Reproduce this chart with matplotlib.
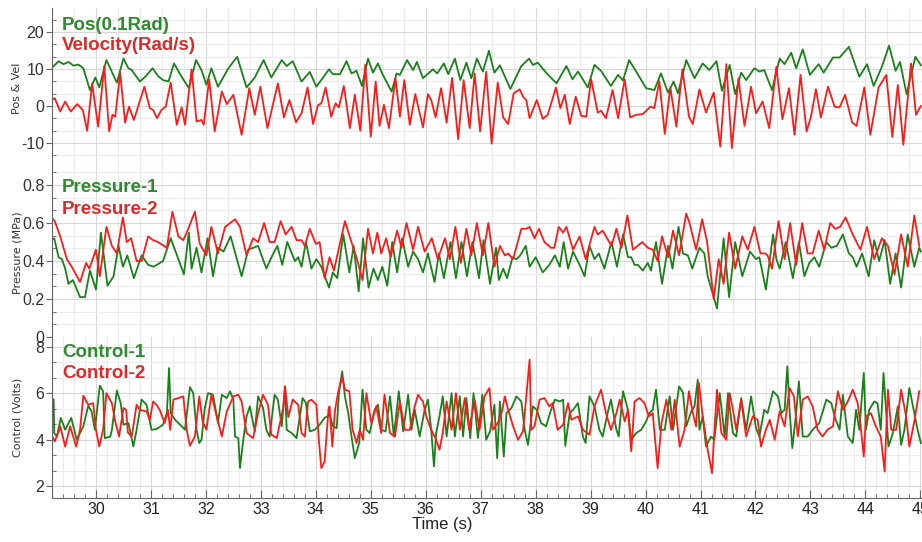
import matplotlib
matplotlib.use("Agg")
import matplotlib.pyplot as plt
import numpy as np
from matplotlib.ticker import AutoMinorLocator

# (time s, value)
pos = [(29.19, 10.2), (29.32, 12.1), (29.41, 11.3), (29.50, 11.9), (29.59, 10.9), (29.68, 11.2), (29.77, 10.2),
       (29.89, 4.3), (29.99, 7.7), (30.06, 5.0), (30.19, 12.4), (30.38, 6.3), (30.50, 12.8), (30.59, 10.2),
       (30.65, 9.7), (30.80, 6.6), (30.91, 8.1), (31.03, 10.2), (31.13, 8.1), (31.22, 7.0), (31.32, 6.6),
       (31.42, 11.5), (31.53, 8.6), (31.69, 4.8), (31.82, 12.4), (31.92, 9.7), (32.01, 5.7), (32.10, 10.2),
       (32.22, 5.2), (32.41, 10.2), (32.57, 13.3), (32.74, 5.0), (32.89, 7.7), (33.05, 12.4), (33.19, 7.7),
       (33.38, 12.4), (33.47, 10.8), (33.58, 12.1), (33.74, 6.6), (33.89, 9.2), (34.01, 5.2), (34.24, 9.9),
       (34.31, 8.6), (34.44, 8.6), (34.56, 12.1), (34.65, 8.8), (34.74, 9.5), (34.84, 5.4), (34.95, 12.8),
       (35.04, 9.0), (35.13, 11.5), (35.22, 8.4), (35.38, 3.9), (35.47, 8.8), (35.53, 8.4), (35.66, 12.4),
       (35.77, 9.7), (35.84, 11.9), (35.95, 7.5), (36.13, 9.9), (36.21, 8.8), (36.33, 11.5), (36.41, 8.6),
       (36.53, 12.8), (36.63, 7.0), (36.74, 11.7), (36.83, 7.5), (36.93, 12.8), (37.04, 9.3), (37.15, 14.9),
       (37.25, 9.0), (37.35, 11.0), (37.54, 4.6), (37.74, 10.8), (37.88, 12.8), (37.95, 11.1), (38.04, 11.7),
       (38.19, 9.0), (38.38, 6.1), (38.56, 10.8), (38.67, 7.2), (38.77, 9.3), (38.95, 5.0), (39.07, 11.1),
       (39.19, 9.5), (39.37, 5.4), (39.50, 8.4), (39.59, 6.9), (39.70, 12.4), (39.83, 9.3), (40.01, 4.8),
       (40.16, 4.3), (40.28, 8.8), (40.41, 3.6), (40.51, 6.6), (40.59, 3.4), (40.74, 12.4), (40.89, 7.5),
       (41.04, 11.5), (41.16, 9.7), (41.29, 12.1), (41.39, 4.1), (41.53, 11.1), (41.63, 3.2), (41.74, 9.0),
       (41.83, 7.0), (41.98, 10.2), (42.07, 9.3), (42.16, 9.7), (42.30, 4.3), (42.44, 12.8), (42.53, 11.3),
       (42.65, 14.4), (42.74, 10.2), (42.86, 15.3), (42.99, 8.4), (43.15, 11.3), (43.24, 9.0), (43.41, 13.1),
       (43.53, 13.1), (43.70, 16.0), (43.89, 7.9), (44.03, 11.3), (44.15, 5.4), (44.30, 10.6), (44.43, 16.3),
       (44.55, 9.5), (44.63, 11.9), (44.75, 3.2), (44.91, 13.3), (45.01, 11.0)]

vel = [(29.19, 1.6), (29.25, 2.1), (29.35, -1.5), (29.44, 1.2), (29.54, -1.5), (29.66, 0.5), (29.76, -1.1),
       (29.84, -6.7), (29.93, 6.1), (30.04, -5.6), (30.15, 10.8), (30.24, -6.9), (30.30, -2.4), (30.35, -2.9),
       (30.44, 9.0), (30.53, -4.5), (30.60, -0.2), (30.69, -3.8), (30.88, 5.2), (30.98, -0.6), (31.04, -1.1),
       (31.11, -3.3), (31.19, -1.1), (31.27, -0.2), (31.36, 6.3), (31.47, -5.1), (31.56, -0.4), (31.62, -5.1),
       (31.74, 9.9), (31.83, -4.2), (31.92, -3.8), (31.96, -5.1), (32.06, 7.2), (32.16, -6.9), (32.29, 3.9),
       (32.38, 0.5), (32.50, 3.0), (32.65, -7.8), (32.79, 4.8), (32.89, -2.4), (32.99, 5.2), (33.12, -6.0),
       (33.31, 6.1), (33.42, -3.1), (33.52, 1.6), (33.64, -4.4), (33.74, -2.0), (33.85, 5.0), (33.95, -4.9),
       (34.04, 0.2), (34.10, 0.7), (34.18, 5.0), (34.28, -2.9), (34.36, 0.7), (34.42, -0.4), (34.51, 5.4),
       (34.62, -6.0), (34.71, 3.0), (34.81, -6.7), (34.90, 11.2), (35.00, -8.3), (35.09, 6.6), (35.16, -5.4),
       (35.24, 0.3), (35.33, -6.0), (35.45, 7.5), (35.53, -2.9), (35.61, 7.0), (35.71, -5.1), (35.81, 3.2),
       (35.95, -5.8), (36.04, 3.2), (36.10, 1.6), (36.18, -3.1), (36.28, 4.8), (36.38, -4.5), (36.48, 7.6),
       (36.59, -9.0), (36.69, 7.0), (36.80, -6.0), (36.89, 8.8), (36.99, -6.9), (37.10, 9.3), (37.20, -10.2),
       (37.31, 6.3), (37.41, -3.1), (37.50, -4.9), (37.60, 3.4), (37.71, 4.5), (37.77, 2.5), (37.83, 1.6),
       (37.89, -3.3), (38.02, 1.6), (38.13, -3.5), (38.22, -2.4), (38.37, 5.0), (38.45, -0.6), (38.53, 3.0),
       (38.62, -4.9), (38.73, 2.5), (38.83, -2.7), (38.92, -2.9), (39.01, 7.2), (39.13, -1.8), (39.19, -1.3),
       (39.28, -3.3), (39.40, 4.3), (39.50, -3.3), (39.62, 7.2), (39.72, -3.1), (39.83, -2.4), (39.95, -2.2),
       (40.09, -0.2), (40.16, -0.6), (40.25, 6.7), (40.35, -7.6), (40.45, 5.0), (40.56, -5.6), (40.67, 9.9),
       (40.79, -2.9), (40.86, -4.9), (40.98, 4.5), (41.10, -1.8), (41.24, 3.6), (41.36, -11.0), (41.47, 11.3),
       (41.57, -11.4), (41.69, 7.5), (41.80, -5.4), (41.92, 5.2), (42.01, -2.0), (42.13, 1.2), (42.25, -6.0),
       (42.38, 10.6), (42.49, -3.6), (42.61, 4.8), (42.71, -7.8), (42.82, 8.4), (42.93, -6.9), (43.01, -2.9),
       (43.10, 4.5), (43.19, -3.1), (43.32, 5.2), (43.44, -0.2), (43.53, -0.4), (43.63, 3.0), (43.76, -4.5),
       (43.84, -5.4), (43.98, 5.0), (44.09, -7.8), (44.24, 5.0), (44.38, 8.4), (44.49, -8.4), (44.59, 5.7),
       (44.69, -10.5), (44.83, 11.5), (44.92, -2.4), (45.01, 0.0)]

press1 = [(29.19, 0.51), (29.24, 0.52), (29.32, 0.42), (29.38, 0.41), (29.44, 0.36), (29.50, 0.28), (29.58, 0.30),
          (29.71, 0.21), (29.80, 0.21), (29.89, 0.35), (30.00, 0.25), (30.09, 0.55), (30.21, 0.27), (30.32, 0.32),
          (30.41, 0.48), (30.49, 0.37), (30.57, 0.43), (30.69, 0.31), (30.83, 0.43), (30.95, 0.38), (31.05, 0.37),
          (31.22, 0.40), (31.36, 0.52), (31.60, 0.33), (31.69, 0.55), (31.74, 0.36), (31.83, 0.47), (31.92, 0.34),
          (32.03, 0.52), (32.13, 0.32), (32.22, 0.47), (32.32, 0.45), (32.45, 0.53), (32.65, 0.32), (32.77, 0.46),
          (32.95, 0.48), (33.10, 0.36), (33.21, 0.43), (33.30, 0.48), (33.39, 0.38), (33.48, 0.50), (33.62, 0.40),
          (33.68, 0.42), (33.74, 0.37), (33.82, 0.50), (33.92, 0.36), (34.01, 0.41), (34.10, 0.37), (34.24, 0.26),
          (34.31, 0.34), (34.39, 0.31), (34.50, 0.54), (34.61, 0.34), (34.69, 0.48), (34.78, 0.24), (34.86, 0.52),
          (34.96, 0.26), (35.05, 0.36), (35.13, 0.30), (35.21, 0.37), (35.30, 0.27), (35.39, 0.50), (35.48, 0.34),
          (35.57, 0.52), (35.68, 0.37), (35.77, 0.45), (35.86, 0.41), (35.95, 0.34), (36.04, 0.44), (36.16, 0.29),
          (36.24, 0.44), (36.33, 0.31), (36.45, 0.50), (36.55, 0.31), (36.65, 0.50), (36.75, 0.32), (36.85, 0.50),
          (36.97, 0.31), (37.05, 0.51), (37.17, 0.28), (37.28, 0.47), (37.33, 0.30), (37.41, 0.36), (37.48, 0.31),
          (37.58, 0.42), (37.65, 0.41), (37.72, 0.43), (37.82, 0.48), (37.89, 0.37), (38.00, 0.42), (38.13, 0.34),
          (38.25, 0.38), (38.35, 0.43), (38.44, 0.37), (38.51, 0.50), (38.59, 0.36), (38.68, 0.45), (38.80, 0.38),
          (38.89, 0.32), (38.98, 0.48), (39.07, 0.41), (39.15, 0.44), (39.25, 0.36), (39.38, 0.50), (39.48, 0.37),
          (39.59, 0.54), (39.68, 0.42), (39.74, 0.42), (39.80, 0.38), (39.86, 0.38), (39.95, 0.35), (40.04, 0.39),
          (40.10, 0.35), (40.19, 0.50), (40.30, 0.28), (40.41, 0.48), (40.49, 0.36), (40.60, 0.58), (40.68, 0.44),
          (40.77, 0.43), (40.85, 0.36), (40.98, 0.47), (41.07, 0.44), (41.13, 0.32), (41.30, 0.15), (41.42, 0.52),
          (41.52, 0.21), (41.63, 0.50), (41.76, 0.32), (41.90, 0.45), (42.01, 0.41), (42.07, 0.42), (42.19, 0.25),
          (42.32, 0.54), (42.38, 0.41), (42.44, 0.36), (42.55, 0.50), (42.68, 0.31), (42.79, 0.50), (42.89, 0.32),
          (42.98, 0.39), (43.07, 0.42), (43.16, 0.37), (43.29, 0.50), (43.38, 0.47), (43.48, 0.48), (43.59, 0.54),
          (43.70, 0.44), (43.77, 0.42), (43.84, 0.37), (43.94, 0.44), (44.06, 0.32), (44.16, 0.51), (44.25, 0.40),
          (44.35, 0.51), (44.45, 0.28), (44.55, 0.44), (44.65, 0.26), (44.77, 0.54), (44.89, 0.37), (44.98, 0.47),
          (45.01, 0.45)]

press2 = [(29.19, 0.63), (29.25, 0.61), (29.35, 0.53), (29.47, 0.41), (29.56, 0.37), (29.71, 0.29), (29.82, 0.39),
          (29.88, 0.36), (30.00, 0.46), (30.07, 0.32), (30.19, 0.58), (30.29, 0.48), (30.38, 0.44), (30.49, 0.63),
          (30.56, 0.50), (30.64, 0.52), (30.74, 0.40), (30.83, 0.40), (30.95, 0.53), (31.04, 0.51), (31.13, 0.50),
          (31.29, 0.47), (31.39, 0.66), (31.50, 0.53), (31.59, 0.51), (31.68, 0.57), (31.80, 0.66), (31.89, 0.49),
          (32.01, 0.43), (32.10, 0.58), (32.22, 0.44), (32.35, 0.58), (32.44, 0.60), (32.53, 0.62), (32.62, 0.58),
          (32.74, 0.43), (32.86, 0.52), (32.95, 0.50), (33.06, 0.60), (33.16, 0.50), (33.25, 0.50), (33.36, 0.61),
          (33.45, 0.54), (33.56, 0.58), (33.65, 0.51), (33.74, 0.51), (33.80, 0.48), (33.89, 0.57), (34.00, 0.49),
          (34.07, 0.50), (34.16, 0.31), (34.25, 0.42), (34.33, 0.35), (34.53, 0.61), (34.67, 0.48), (34.74, 0.42),
          (34.85, 0.30), (34.95, 0.57), (35.04, 0.44), (35.12, 0.55), (35.19, 0.44), (35.28, 0.52), (35.36, 0.42),
          (35.48, 0.56), (35.56, 0.47), (35.65, 0.60), (35.77, 0.46), (35.86, 0.58), (35.98, 0.45), (36.11, 0.52),
          (36.22, 0.41), (36.35, 0.52), (36.44, 0.41), (36.54, 0.58), (36.64, 0.39), (36.74, 0.57), (36.83, 0.43),
          (36.93, 0.60), (37.04, 0.43), (37.14, 0.60), (37.25, 0.37), (37.35, 0.48), (37.44, 0.43), (37.50, 0.44),
          (37.59, 0.41), (37.74, 0.57), (37.83, 0.57), (37.89, 0.58), (37.98, 0.52), (38.06, 0.57), (38.16, 0.50),
          (38.28, 0.47), (38.34, 0.47), (38.42, 0.58), (38.50, 0.55), (38.56, 0.58), (38.68, 0.46), (38.80, 0.53),
          (38.91, 0.41), (39.07, 0.58), (39.13, 0.54), (39.22, 0.56), (39.38, 0.48), (39.47, 0.57), (39.56, 0.47),
          (39.67, 0.64), (39.77, 0.46), (39.94, 0.50), (40.04, 0.47), (40.13, 0.46), (40.22, 0.40), (40.30, 0.53),
          (40.41, 0.42), (40.50, 0.56), (40.61, 0.43), (40.74, 0.65), (40.80, 0.60), (40.92, 0.46), (41.03, 0.62),
          (41.12, 0.50), (41.24, 0.20), (41.33, 0.41), (41.42, 0.28), (41.52, 0.55), (41.63, 0.36), (41.76, 0.53),
          (41.86, 0.46), (41.98, 0.58), (42.09, 0.44), (42.18, 0.44), (42.22, 0.43), (42.30, 0.36), (42.42, 0.61),
          (42.53, 0.41), (42.63, 0.60), (42.74, 0.38), (42.85, 0.60), (42.95, 0.44), (43.04, 0.44), (43.15, 0.56),
          (43.25, 0.46), (43.36, 0.60), (43.45, 0.57), (43.54, 0.58), (43.64, 0.63), (43.77, 0.54), (43.91, 0.46),
          (44.03, 0.58), (44.16, 0.41), (44.30, 0.52), (44.41, 0.48), (44.53, 0.33), (44.65, 0.54), (44.77, 0.37),
          (44.89, 0.64), (44.98, 0.48)]

ctrl1 = [(29.19, 5.80), (29.23, 5.73), (29.24, 4.29), (29.29, 4.14), (29.36, 4.94), (29.44, 4.43), (29.55, 4.94),
         (29.65, 4.00), (29.77, 4.58), (29.86, 5.47), (29.92, 5.22), (29.98, 4.43), (30.07, 6.33), (30.13, 6.09),
         (30.16, 4.07), (30.26, 4.14), (30.29, 4.43), (30.38, 6.12), (30.45, 5.58), (30.50, 4.65), (30.59, 4.72),
         (30.68, 3.71), (30.74, 4.43), (30.83, 5.73), (30.92, 5.51), (31.01, 4.43), (31.10, 4.46), (31.22, 4.65),
         (31.29, 5.15), (31.33, 7.09), (31.36, 5.15), (31.44, 4.86), (31.56, 4.58), (31.62, 4.43), (31.71, 6.27),
         (31.77, 6.01), (31.83, 4.43), (31.88, 3.86), (31.92, 4.00), (31.98, 5.37), (32.04, 6.01), (32.13, 5.94),
         (32.22, 4.72), (32.29, 5.94), (32.38, 5.80), (32.44, 6.09), (32.50, 5.73), (32.53, 4.14), (32.59, 4.07),
         (32.62, 2.78), (32.68, 4.00), (32.74, 5.01), (32.80, 5.44), (32.89, 4.36), (32.95, 5.87), (33.04, 5.37),
         (33.10, 4.43), (33.16, 4.14), (33.25, 5.94), (33.31, 5.73), (33.38, 4.58), (33.44, 6.30), (33.47, 4.43),
         (33.56, 4.29), (33.65, 4.07), (33.76, 5.80), (33.82, 5.58), (33.89, 4.36), (33.98, 4.43), (34.07, 4.65),
         (34.16, 4.94), (34.25, 5.08), (34.31, 4.58), (34.38, 4.50), (34.42, 6.01), (34.48, 6.95), (34.53, 5.87),
         (34.59, 5.15), (34.65, 4.14), (34.71, 3.21), (34.79, 3.86), (34.85, 6.16), (34.92, 4.43), (34.98, 4.29),
         (35.07, 5.29), (35.13, 5.51), (35.19, 4.43), (35.27, 4.36), (35.35, 5.87), (35.42, 4.14), (35.51, 6.09),
         (35.59, 4.36), (35.68, 5.94), (35.74, 4.43), (35.80, 5.29), (35.89, 4.14), (35.98, 5.29), (36.04, 5.73),
         (36.10, 4.43), (36.15, 2.85), (36.19, 4.29), (36.25, 5.01), (36.31, 5.87), (36.38, 4.14), (36.47, 6.01),
         (36.53, 4.14), (36.62, 5.87), (36.68, 4.14), (36.74, 5.80), (36.81, 4.07), (36.87, 6.01), (36.95, 4.07),
         (37.03, 5.94), (37.10, 4.00), (37.17, 4.36), (37.25, 5.51), (37.30, 3.21), (37.35, 5.65), (37.42, 3.28),
         (37.47, 5.15), (37.56, 5.37), (37.65, 5.87), (37.74, 5.65), (37.80, 4.43), (37.86, 3.78), (37.95, 5.44),
         (38.02, 5.29), (38.10, 4.72), (38.19, 4.58), (38.27, 5.22), (38.35, 5.73), (38.44, 5.65), (38.50, 5.73),
         (38.54, 3.74), (38.62, 5.15), (38.68, 5.29), (38.77, 5.58), (38.86, 4.14), (38.91, 3.86), (38.98, 5.87),
         (39.07, 5.44), (39.16, 4.43), (39.22, 4.14), (39.31, 5.15), (39.37, 5.73), (39.47, 4.43), (39.51, 4.14),
         (39.59, 6.09), (39.68, 5.29), (39.74, 4.00), (39.83, 4.29), (39.92, 4.43), (40.01, 4.79), (40.07, 5.15),
         (40.13, 5.29), (40.19, 6.16), (40.26, 4.43), (40.35, 4.43), (40.41, 5.44), (40.44, 5.87), (40.50, 4.43),
         (40.61, 6.30), (40.68, 6.04), (40.74, 4.58), (40.83, 5.22), (40.89, 5.44), (40.95, 6.59), (40.98, 4.43),
         (41.04, 5.01), (41.10, 3.71), (41.19, 4.14), (41.25, 4.00), (41.35, 6.01), (41.44, 4.14), (41.50, 6.01),
         (41.59, 4.29), (41.65, 4.14), (41.74, 5.80), (41.83, 4.43), (41.92, 5.87), (42.01, 4.50), (42.07, 4.14),
         (42.16, 5.29), (42.22, 5.15), (42.32, 6.09), (42.41, 5.87), (42.47, 5.15), (42.53, 5.29), (42.58, 7.17),
         (42.62, 5.29), (42.67, 3.64), (42.74, 5.15), (42.79, 6.52), (42.86, 4.14), (42.95, 4.14), (43.04, 4.43),
         (43.16, 4.72), (43.29, 5.73), (43.38, 5.58), (43.44, 5.01), (43.53, 4.43), (43.59, 5.94), (43.68, 4.14),
         (43.77, 3.86), (43.83, 5.29), (43.89, 4.43), (43.97, 6.88), (44.01, 4.43), (44.07, 5.29), (44.16, 5.65),
         (44.22, 5.58), (44.28, 4.43), (44.33, 6.88), (44.38, 5.15), (44.42, 3.71), (44.50, 4.29), (44.59, 5.44),
         (44.65, 3.78), (44.71, 4.43), (44.80, 6.23), (44.89, 5.15), (44.95, 4.43), (45.01, 3.86)]

ctrl2 = [(29.19, 4.22), (29.25, 3.93), (29.32, 4.36), (29.35, 4.58), (29.44, 3.71), (29.53, 4.58), (29.64, 3.71),
         (29.71, 4.43), (29.77, 5.90), (29.86, 5.51), (29.95, 5.58), (30.00, 4.43), (30.06, 3.71), (30.13, 4.43),
         (30.19, 6.01), (30.29, 5.58), (30.35, 4.79), (30.42, 4.14), (30.50, 5.37), (30.55, 5.29), (30.58, 4.32),
         (30.65, 4.14), (30.74, 5.51), (30.80, 5.29), (30.92, 5.22), (30.98, 4.86), (31.04, 5.65), (31.10, 5.51),
         (31.16, 5.29), (31.25, 4.72), (31.31, 5.29), (31.35, 4.43), (31.41, 5.73), (31.50, 5.80), (31.59, 5.87),
         (31.65, 4.43), (31.71, 3.74), (31.80, 4.14), (31.88, 5.87), (31.94, 4.79), (32.01, 4.43), (32.10, 5.94),
         (32.19, 5.08), (32.29, 4.14), (32.38, 5.22), (32.50, 5.87), (32.59, 5.94), (32.65, 5.65), (32.74, 4.29),
         (32.86, 4.07), (32.95, 5.15), (33.04, 5.94), (33.13, 5.51), (33.19, 4.22), (33.29, 4.07), (33.41, 5.41),
         (33.44, 6.30), (33.50, 4.98), (33.58, 5.73), (33.68, 5.51), (33.74, 4.29), (33.80, 4.14), (33.86, 5.65),
         (33.92, 5.73), (34.01, 5.51), (34.06, 3.86), (34.10, 2.78), (34.16, 3.06), (34.23, 5.29), (34.25, 5.44),
         (34.30, 3.71), (34.35, 5.29), (34.41, 6.09), (34.48, 6.73), (34.53, 6.16), (34.61, 6.09), (34.67, 4.43),
         (34.74, 3.86), (34.80, 4.43), (34.86, 4.00), (34.92, 6.01), (35.01, 4.72), (35.10, 5.44), (35.19, 4.29),
         (35.25, 5.94), (35.35, 4.29), (35.44, 4.14), (35.53, 5.65), (35.62, 4.43), (35.71, 4.43), (35.80, 5.44),
         (35.86, 5.94), (35.95, 5.65), (36.01, 5.01), (36.10, 4.43), (36.19, 4.00), (36.25, 3.57), (36.31, 4.29),
         (36.38, 5.65), (36.47, 4.43), (36.55, 6.01), (36.62, 4.43), (36.71, 5.80), (36.79, 4.43), (36.89, 5.73),
         (36.98, 4.43), (37.07, 5.87), (37.16, 6.23), (37.22, 4.43), (37.31, 4.72), (37.38, 5.15), (37.44, 5.87),
         (37.50, 5.29), (37.59, 4.58), (37.68, 4.00), (37.77, 4.36), (37.83, 5.87), (37.89, 7.45), (37.92, 4.43),
         (37.98, 4.58), (38.07, 5.73), (38.16, 5.80), (38.25, 5.44), (38.31, 5.58), (38.40, 4.43), (38.50, 4.65),
         (38.59, 5.58), (38.65, 4.86), (38.77, 5.01), (38.86, 4.43), (38.98, 4.22), (39.07, 5.44), (39.19, 6.16),
         (39.28, 5.15), (39.37, 4.43), (39.47, 5.15), (39.53, 5.73), (39.62, 4.79), (39.68, 5.29), (39.74, 3.50),
         (39.80, 5.65), (39.89, 5.80), (39.98, 5.58), (40.06, 5.01), (40.13, 5.15), (40.22, 2.78), (40.29, 4.72),
         (40.38, 5.73), (40.47, 4.43), (40.53, 5.73), (40.62, 3.71), (40.71, 4.43), (40.79, 6.09), (40.86, 5.15),
         (40.92, 4.58), (40.97, 6.45), (41.04, 5.01), (41.13, 3.57), (41.21, 2.56), (41.25, 4.29), (41.30, 6.16),
         (41.38, 4.29), (41.47, 4.00), (41.53, 6.01), (41.59, 5.29), (41.65, 4.43), (41.74, 5.73), (41.83, 4.14),
         (41.95, 5.01), (42.04, 4.86), (42.10, 3.71), (42.19, 4.43), (42.26, 4.86), (42.35, 4.00), (42.44, 5.22),
         (42.53, 4.58), (42.62, 6.23), (42.70, 5.87), (42.77, 4.14), (42.86, 5.73), (42.95, 5.87), (43.04, 5.44),
         (43.13, 4.43), (43.22, 4.14), (43.31, 4.43), (43.41, 4.58), (43.50, 6.09), (43.59, 5.29), (43.68, 5.65),
         (43.77, 6.16), (43.86, 5.58), (43.92, 4.43), (43.97, 3.28), (44.01, 5.01), (44.10, 5.15), (44.19, 4.58),
         (44.28, 4.14), (44.35, 2.63), (44.41, 6.16), (44.47, 4.43), (44.56, 4.43), (44.65, 6.16), (44.74, 5.01),
         (44.80, 3.71), (44.89, 4.79), (44.98, 6.09)]

green = '#1a801a'
red = '#ff1a1a'
text_green = '#2e8b2e'
text_red = '#dd2a2a'
ink = '#333333'
axis_col = '#666666'

fig = plt.figure(figsize=(9.22, 5.42), dpi=100)
W, H = 922.0, 542.0
left, width = 52 / W, 870 / W
ax1 = fig.add_axes([left, 1 - 168 / H, width, 160 / H])
ax2 = fig.add_axes([left, 1 - 337 / H, width, 169 / H])
ax3 = fig.add_axes([left, 1 - 498 / H, width, 161 / H])

# axis, series 1, series 2, labels, y label, y limits, y ticks, label baselines
panels = [
    (ax1, pos, vel, 'Pos(0.1Rad)', 'Velocity(Rad/s)', 'Pos & Vel', (-16.8, 26.5),
     [-10, 0, 10, 20], ['-10', '0', '10', '20'], (0.862, 0.738)),
    (ax2, press1, press2, 'Pressure-1', 'Pressure-2', 'Pressure (MPa)', (0, 0.89),
     [0, 0.2, 0.4, 0.6, 0.8], ['0', '0.2', '0.4', '0.6', '0.8'], (0.86, 0.728)),
    (ax3, ctrl1, ctrl2, 'Control-1', 'Control-2', 'Control (Volts)', (1.49, 8.43),
     [2, 4, 6, 8], ['2', '4', '6', '8'], (0.876, 0.745)),
]

for ax, s1, s2, lab1, lab2, ylab, ylim, yt, ytl, ys in panels:
    a = np.array(s1)
    b = np.array(s2)
    ax.plot(a[:, 0], a[:, 1], color=green, lw=1.3, solid_joinstyle='round')
    ax.plot(b[:, 0], b[:, 1], color=red, lw=1.3, solid_joinstyle='round')
    ax.set_xlim(29.2, 45.03)
    ax.set_ylim(*ylim)
    ax.set_yticks(yt)
    ax.set_yticklabels(ytl, family='Liberation Sans')
    ax.xaxis.set_minor_locator(AutoMinorLocator(5))
    ax.yaxis.set_minor_locator(AutoMinorLocator(3))
    ax.grid(which='minor', color='#ececec', lw=0.8)
    ax.grid(which='major', color='#d8d8d8', lw=0.8)
    ax.set_axisbelow(True)
    for sp in ['top', 'right']:
        ax.spines[sp].set_visible(False)
    ax.spines['left'].set_color(axis_col)
    ax.tick_params(axis='y', which='major', direction='out', length=4, color=axis_col,
                   labelsize=11.5, labelcolor=ink, pad=1.5)
    ax.tick_params(axis='y', which='minor', direction='in', length=3, color=axis_col)
    ax.set_ylabel(ylab, fontsize=8, color=ink)
    ax.yaxis.set_label_coords(-0.034, 0.5)
    ax.text(0.0115, ys[0], lab1, transform=ax.transAxes, color=text_green, fontsize=13.5,
            family='Liberation Sans', weight='bold', va='baseline', ha='left')
    ax.text(0.0115, ys[1], lab2, transform=ax.transAxes, color=text_red, fontsize=13.5,
            family='Liberation Sans', weight='bold', va='baseline', ha='left')

for ax in (ax1, ax2):
    ax.spines['bottom'].set_visible(False)
    ax.tick_params(axis='x', which='both', bottom=False, labelbottom=False)

ax3.spines['bottom'].set_color(axis_col)
ax3.set_xticks(range(30, 46))
ax3.set_xticklabels([str(v) for v in range(30, 46)], family='Liberation Sans')
ax3.tick_params(axis='x', which='major', direction='in', length=6, color=axis_col,
                labelsize=11.5, labelcolor='#222222', pad=3)
ax3.tick_params(axis='x', which='minor', direction='in', length=3, color=axis_col)
ax3.set_xlabel('Time (s)', fontsize=12, color='#222222', family='Liberation Sans')
ax3.xaxis.set_label_coords(0.448, -0.12)

fig.savefig('out.png', dpi=100)
